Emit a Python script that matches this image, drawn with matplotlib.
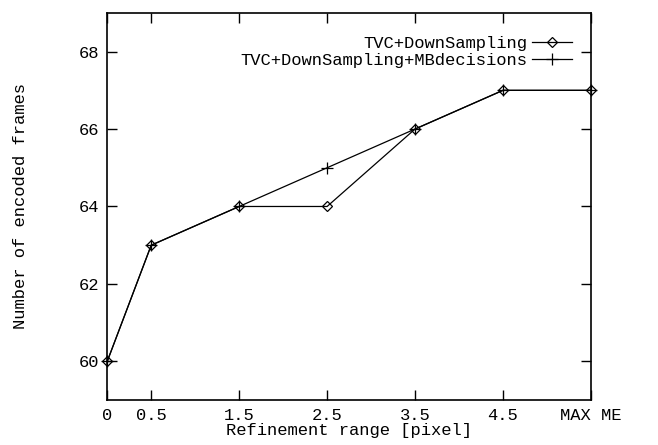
import matplotlib.pyplot as plt

# refinement range positions and their labels
x_pos = [0, 0.5, 1.5, 2.5, 3.5, 4.5, 5.5]
x_labels = ['0', '0.5', '1.5', '2.5', '3.5', '4.5', 'MAX ME']

# number of encoded frames
down_sampling = [60, 63, 64, 64, 66, 67, 67]
down_sampling_mb = [60, 63, 64, 65, 66, 67, 67]

plt.rcParams['font.family'] = ['Liberation Mono', 'DejaVu Sans Mono']
plt.rcParams['font.size'] = 12.3

fig = plt.figure(figsize=(6.58, 4.45), dpi=100)
ax = fig.add_axes([0.163, 0.101, 0.735, 0.870])

ax.plot(x_pos, down_sampling, color='black', lw=0.9, marker='D', ms=5.5,
        mfc='none', mec='black', mew=0.9, label='TVC+DownSampling', clip_on=False)
ax.plot(x_pos, down_sampling_mb, color='black', lw=0.9, marker='+', ms=9,
        mew=0.9, label='TVC+DownSampling+MBdecisions', clip_on=False)

ax.set_xlim(0, 5.5)
ax.set_ylim(59, 69)
ax.set_xticks(x_pos)
ax.set_xticklabels(x_labels)
ax.set_yticks([60, 62, 64, 66, 68])
ax.tick_params(direction='in', length=7, width=1, top=True, right=True, pad=6)
for s in ax.spines.values():
    s.set_linewidth(1.2)

ax.set_xlabel('Refinement range [pixel]', labelpad=0)
ax.set_ylabel('Number of encoded frames', labelpad=36)

ax.legend(loc='upper right', frameon=False, markerfirst=False, handlelength=2.3,
          handletextpad=0.3, labelspacing=0.1, borderaxespad=0.3,
          bbox_to_anchor=(0.985, 0.97))

fig.savefig('out.png', dpi=100)
